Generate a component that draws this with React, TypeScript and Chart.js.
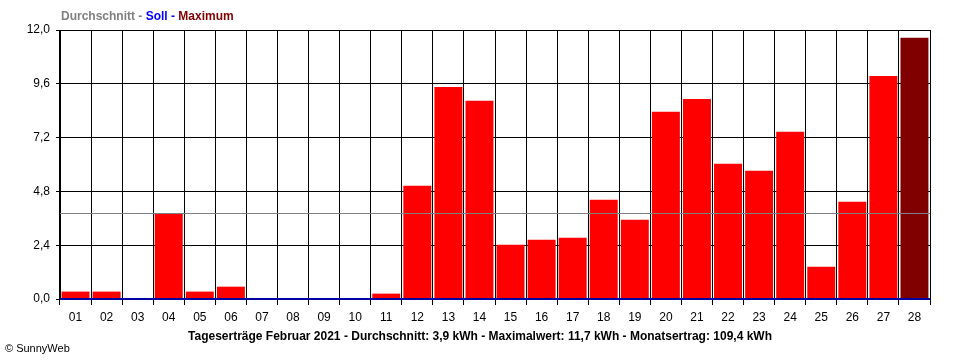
import React, { useEffect, useRef } from "react";
import { Chart, registerables } from "chart.js";

Chart.register(...registerables);

const days = ["01","02","03","04","05","06","07","08","09","10","11","12","13","14","15","16","17","18","19","20","21","22","23","24","25","26","27","28"];
const yields = [0.33,0.33,0,3.8,0.33,0.55,0,0,0,0,0.24,5.05,9.46,8.84,2.42,2.64,2.73,4.43,3.53,8.35,8.92,6.03,5.72,7.46,1.44,4.34,9.95,11.65];
const yTicks = [0, 2.4, 4.8, 7.2, 9.6, 12.0];
const averageValue = 3.85;
const targetValue = 0;
const legendParts = [
  { text: "Durchschnitt", color: "#808080" },
  { text: " - ", color: "#808080" },
  { text: "Soll", color: "#0000ff" },
  { text: " - ", color: "#0000ff" },
  { text: "Maximum", color: "#800000" },
];
const bottomTitle = "Tageserträge Februar 2021 - Durchschnitt: 3,9 kWh - Maximalwert: 11,7 kWh - Monatsertrag: 109,4 kWh";
const copyright = "© SunnyWeb";

const FONT = "'Liberation Sans', Arial, sans-serif";

export default function App() {
  const ref = useRef<HTMLCanvasElement>(null);
  useEffect(() => {
    const canvas = ref.current;
    if (!canvas) return;
    const maxVal = Math.max(...yields);
    const colors = yields.map((v) => (v === maxVal ? "#800000" : "#ff0000"));

    const overlay = {
      id: "overlay",
      afterDatasetsDraw(chart: any) {
        const ctx = chart.ctx;
        const area = chart.chartArea;
        const y = chart.scales.y;
        ctx.save();
        const ya = Math.round(y.getPixelForValue(averageValue)) + 0.5;
        ctx.strokeStyle = "#808080";
        ctx.lineWidth = 1;
        ctx.beginPath();
        ctx.moveTo(area.left, ya);
        ctx.lineTo(area.right, ya);
        ctx.stroke();
        const ys = Math.round(y.getPixelForValue(targetValue));
        ctx.strokeStyle = "#0000a0";
        ctx.lineWidth = 2;
        ctx.beginPath();
        ctx.moveTo(area.left, ys);
        ctx.lineTo(area.right, ys);
        ctx.stroke();
        ctx.restore();
      },
      afterDraw(chart: any) {
        const ctx = chart.ctx;
        ctx.save();
        ctx.textBaseline = "middle";
        ctx.font = `bold 12px ${FONT}`;
        let x = 61;
        for (const p of legendParts) {
          ctx.fillStyle = p.color;
          ctx.fillText(p.text, x, 17);
          x += ctx.measureText(p.text).width;
        }
        ctx.fillStyle = "#000000";
        ctx.font = `bold 12px ${FONT}`;
        ctx.textAlign = "center";
        ctx.fillText(bottomTitle, 480, 337);
        ctx.textAlign = "left";
        ctx.font = `11px ${FONT}`;
        ctx.fillText(copyright, 5, 349);
        ctx.restore();
      },
    };

    const chart = new Chart(canvas, {
      type: "bar",
      data: {
        labels: days,
        datasets: [
          {
            data: yields,
            backgroundColor: colors,
            borderWidth: 0,
            barPercentage: 0.9,
            categoryPercentage: 1,
          },
        ],
      },
      options: {
        responsive: false,
        animation: false,
        layout: { padding: { top: 30, right: 30, left: 0, bottom: 0 } },
        plugins: { legend: { display: false }, tooltip: { enabled: false }, title: { display: false } },
        scales: {
          x: {
            offset: true,
            grid: { offset: true, color: "#000000", lineWidth: 1, tickLength: 6, drawTicks: true },
            border: { display: true, color: "#000000" },
            ticks: { color: "#000000", font: { family: FONT, size: 12 }, padding: 5, maxRotation: 0, autoSkip: false },
            afterFit(s: any) { s.height = 61; },
          },
          y: {
            min: 0,
            max: 12,
            grid: { color: "#000000", lineWidth: 1, tickLength: 4 },
            border: { display: true, color: "#000000" },
            afterBuildTicks(s: any) { s.ticks = yTicks.map((v) => ({ value: v })); },
            ticks: {
              color: "#000000",
              font: { family: FONT, size: 12 },
              padding: 6,
              callback: (v: any) => Number(v).toFixed(1).replace(".", ","),
            },
            afterFit(s: any) { s.width = 60; },
          },
        },
      },
      plugins: [overlay],
    });
    return () => chart.destroy();
  }, []);
  return (
    <div style={{ position: "fixed", left: 0, top: 0, width: 960, height: 360, background: "#fff" }}>
      <canvas ref={ref} width={960} height={360} style={{ width: 960, height: 360, display: "block" }} />
    </div>
  );
}
